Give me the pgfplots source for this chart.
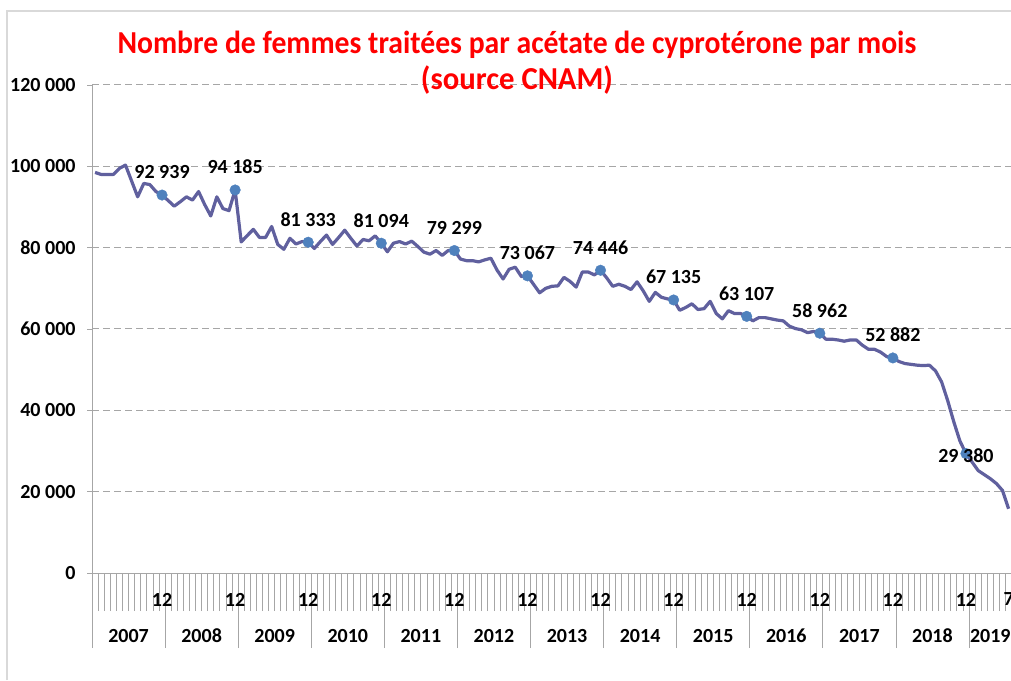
\documentclass[border=0pt]{standalone}
\usepackage{fontspec}
\setmainfont{Carlito}
\usepackage{pgfplots}
\pgfplotsset{compat=1.18}
\definecolor{serie}{RGB}{96,96,158}
\definecolor{pointbleu}{RGB}{79,129,189}
\definecolor{grille}{RGB}{166,166,166}
\definecolor{cadre}{RGB}{217,217,217}
\newcommand{\etiq}{\fontsize{20}{24}\selectfont\bfseries}
\begin{document}
\begin{tikzpicture}
\begin{axis}[
  at={(92pt,107pt)}, anchor=south west,
  scale only axis, width=919pt, height=488pt,
  xmin=0.5, xmax=151.4, ymin=0, ymax=120000,
  clip=false,
  axis x line*=bottom, axis y line*=left,
  axis line style={grille, line width=1pt, -},
  tick align=outside,
  xtick={0.5,12.5,...,144.5}, xticklabels={},
  minor xtick={0.5,1.5,...,151.5},
  major x tick style={grille, line width=0.8pt, /pgfplots/major tick length=75pt},
  minor x tick style={grille, line width=0.8pt, /pgfplots/minor tick length=38pt},
  ytick={0,20000,...,120000},
  yticklabels={0,20~000,40~000,60~000,80~000,100~000,120~000},
  major y tick style={grille, line width=0.8pt, /pgfplots/major tick length=5pt},
  ymajorgrids,
  major grid style={grille, line width=1pt, dash pattern=on 7pt off 4pt},
  yticklabel style={font=\etiq, anchor=east, inner sep=0pt, xshift=-12pt},
  scaled y ticks=false,
]
% nombre de femmes par mois, janvier 2007 = 1
\addplot[serie, line width=3.2pt, line join=round] coordinates {
(1,98500)(2,98000)(3,98000)(4,98000)(5,99500)(6,100300)(7,96400)(8,92500)(9,95800)(10,95500)(11,93800)(12,92939)
(13,91600)(14,90200)(15,91300)(16,92500)(17,91700)(18,93800)(19,90600)(20,87800)(21,92500)(22,89600)(23,89100)(24,94185)
(25,81400)(26,83000)(27,84500)(28,82500)(29,82500)(30,85200)(31,80800)(32,79600)(33,82300)(34,80900)(35,81500)(36,81333)
(37,79800)(38,81500)(39,83100)(40,80800)(41,82500)(42,84300)(43,82300)(44,80400)(45,82000)(46,81700)(47,82900)(48,81094)
(49,79000)(50,81100)(51,81500)(52,80900)(53,81600)(54,80300)(55,78900)(56,78400)(57,79300)(58,78100)(59,79300)(60,79299)
(61,77200)(62,76800)(63,76800)(64,76500)(65,77000)(66,77400)(67,74500)(68,72300)(69,74700)(70,75200)(71,72900)(72,73067)
(73,71000)(74,68900)(75,70000)(76,70500)(77,70600)(78,72700)(79,71700)(80,70300)(81,74000)(82,74000)(83,73300)(84,74446)
(85,72600)(86,70500)(87,71000)(88,70500)(89,69700)(90,71600)(91,69400)(92,66800)(93,69000)(94,67800)(95,67400)(96,67135)
(97,64600)(98,65300)(99,66200)(100,64800)(101,65000)(102,66800)(103,63800)(104,62500)(105,64500)(106,63800)(107,63800)(108,63107)
(109,62000)(110,62800)(111,62800)(112,62500)(113,62200)(114,62000)(115,60700)(116,60100)(117,59800)(118,59100)(119,59400)(120,58962)
(121,57500)(122,57500)(123,57300)(124,57000)(125,57300)(126,57300)(127,56000)(128,55000)(129,55000)(130,54300)(131,53200)(132,52882)
(133,52000)(134,51500)(135,51300)(136,51100)(137,51000)(138,51100)(139,49700)(140,47000)(141,42400)(142,37200)(143,32500)(144,29380)
(145,27300)(146,25200)(147,24200)(148,23200)(149,22000)(150,20300)(151,15800)
};
% points de decembre
\addplot[only marks, mark=*, mark size=5.3pt, pointbleu,
  nodes near coords, point meta=explicit symbolic,
  every node near coord/.style={font=\etiq, text=black, anchor=center, inner sep=0pt, yshift=23pt}]
  coordinates {
(12,92939)[92~939] (24,94185)[94~185] (36,81333)[81~333] (48,81094)[81~094]
(60,79299)[79~299] (72,73067)[73~067] (84,74446)[74~446] (96,67135)[67~135]
(108,63107)[63~107] (120,58962)[58~962] (132,52882)[52~882]
};
\addplot[only marks, mark=*, mark size=5.3pt, pointbleu,
  nodes near coords, point meta=explicit symbolic,
  every node near coord/.style={font=\etiq, text=black, anchor=center, inner sep=0pt, yshift=-2pt}]
  coordinates {(144,29380)[29~380]};
% etiquettes des mois et des annees
\pgfplotsinvokeforeach{12,24,...,144}{
  \node[font=\etiq, inner sep=0pt, yshift=-26.5pt] at (axis cs:#1,0) {12};
}
\node[font=\etiq, inner sep=0pt, yshift=-26.5pt] at (axis cs:151,0) {7};
\node[font=\etiq, inner sep=0pt, yshift=-63pt] at (axis cs:6.5,0) {2007};
\node[font=\etiq, inner sep=0pt, yshift=-63pt] at (axis cs:18.5,0) {2008};
\node[font=\etiq, inner sep=0pt, yshift=-63pt] at (axis cs:30.5,0) {2009};
\node[font=\etiq, inner sep=0pt, yshift=-63pt] at (axis cs:42.5,0) {2010};
\node[font=\etiq, inner sep=0pt, yshift=-63pt] at (axis cs:54.5,0) {2011};
\node[font=\etiq, inner sep=0pt, yshift=-63pt] at (axis cs:66.5,0) {2012};
\node[font=\etiq, inner sep=0pt, yshift=-63pt] at (axis cs:78.5,0) {2013};
\node[font=\etiq, inner sep=0pt, yshift=-63pt] at (axis cs:90.5,0) {2014};
\node[font=\etiq, inner sep=0pt, yshift=-63pt] at (axis cs:102.5,0) {2015};
\node[font=\etiq, inner sep=0pt, yshift=-63pt] at (axis cs:114.5,0) {2016};
\node[font=\etiq, inner sep=0pt, yshift=-63pt] at (axis cs:126.5,0) {2017};
\node[font=\etiq, inner sep=0pt, yshift=-63pt] at (axis cs:138.5,0) {2018};
\node[font=\etiq, inner sep=0pt, yshift=-63pt] at (axis cs:148,0) {2019};
\end{axis}
\node[anchor=base, inner sep=0pt, text=red, font=\fontsize{32}{38}\selectfont\bfseries]
  at (517pt,626pt) {\scalebox{0.928}[1]{Nombre de femmes traitées par acétate de cyprotérone par mois}};
\node[anchor=base, inner sep=0pt, text=red, font=\fontsize{32}{38}\selectfont\bfseries]
  at (517pt,590pt) {\scalebox{0.96}[1]{(source CNAM)}};
\draw[cadre, line width=1.2pt] (7pt,0pt) -- (7pt,669pt) -- (1011pt,669pt);
\pgfresetboundingbox
\path[use as bounding box] (0pt,0pt) rectangle (1011pt,680pt);
\end{tikzpicture}
\end{document}
